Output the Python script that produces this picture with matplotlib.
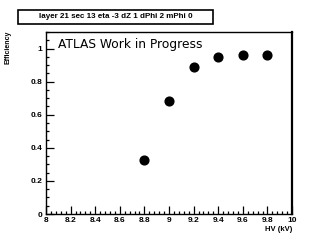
"""ROOT-style efficiency vs HV plot, redrawn with matplotlib."""

import matplotlib

matplotlib.use("Agg")
import matplotlib.pyplot as plt
from matplotlib.patches import Rectangle
from matplotlib.ticker import MultipleLocator

HV_KV = [8.8, 9.0, 9.2, 9.4, 9.6, 9.8]
EFFICIENCY = [0.327, 0.685, 0.89, 0.95, 0.958, 0.958]
TITLE = "layer 21 sec 13 eta -3 dZ 1 dPhi 2 mPhi 0"
LABEL_TEXT = "ATLAS Work in Progress"

plt.rcParams["font.family"] = ["Liberation Sans", "DejaVu Sans"]

fig = plt.figure(figsize=(3.22, 2.45), dpi=100)
ax = fig.add_axes([0.1429, 0.1265, 0.7640, 0.7430])

ax.plot(HV_KV, EFFICIENCY, "o", color="black", markersize=6.3)
ax.set_xlim(8, 10)
ax.set_ylim(0, 1.1)

ax.xaxis.set_major_locator(MultipleLocator(0.2))
ax.xaxis.set_minor_locator(MultipleLocator(0.04))
ax.yaxis.set_major_locator(MultipleLocator(0.2))
ax.yaxis.set_minor_locator(MultipleLocator(0.05))
ax.xaxis.set_major_formatter(lambda v, _: f"{v:g}")
ax.yaxis.set_major_formatter(lambda v, _: f"{v:g}")

ax.tick_params(which="both", direction="in", top=False, right=False,
               width=0.9, labelsize=6)
ax.tick_params(which="major", length=5.5)
ax.tick_params(which="minor", length=2.5)
ax.tick_params(axis="x", pad=2.0)
ax.tick_params(axis="y", pad=2.5)
for lbl in ax.get_xticklabels() + ax.get_yticklabels():
    lbl.set_fontweight("bold")

for side in ["left", "bottom", "top"]:
    ax.spines[side].set_linewidth(1.0)
ax.spines["right"].set_linewidth(1.6)

ax.text(0.05, 0.93, LABEL_TEXT, transform=ax.transAxes, fontsize=8.8,
        family=["DejaVu Sans"], va="center", ha="left")

fig.text(8 / 322, 1 - 31 / 245, "Efficiency", rotation=90, ha="center",
         va="top", fontsize=5, fontweight="bold")
fig.text(292 / 322, 1 - 229 / 245, "HV (kV)", ha="right", va="center",
         fontsize=5.5, fontweight="bold")

fig.patches.append(Rectangle((18 / 322, 1 - 24 / 245), 195 / 322, 14 / 245,
                             transform=fig.transFigure, fill=False,
                             edgecolor="black", linewidth=1.2))
fig.text(115.5 / 322, 1 - 17 / 245, TITLE, ha="center", va="center",
         fontsize=5.8, fontweight="bold")

fig.savefig("out.png", dpi=100)
